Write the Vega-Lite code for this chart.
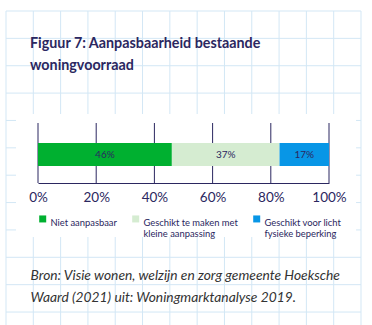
{
  "$schema": "https://vega.github.io/schema/vega-lite/v6.json",
  "width": 291,
  "height": 60,
  "autosize": {"type": "none"},
  "padding": {"left": 38, "top": 123, "right": 43, "bottom": 142},
  "background": "white",
  "config": {"view": {"stroke": null}, "font": "Lato"},
  "title": {
    "text": ["Figuur 7: Aanpasbaarheid bestaande", "woningvoorraad"],
    "anchor": "start",
    "frame": "group",
    "dx": -8,
    "offset": -63,
    "font": "Lato",
    "fontSize": 14.3,
    "fontWeight": "bold",
    "color": "#2b2760",
    "lineHeight": 22
  },
  "datasets": {
    "bars": [
      {"categorie": "Niet aanpasbaar", "aandeel": 0.46, "volgorde": 1},
      {"categorie": "Geschikt te maken met kleine aanpassing", "aandeel": 0.37, "volgorde": 2},
      {"categorie": "Geschikt voor licht fysieke beperking", "aandeel": 0.17, "volgorde": 3}
    ],
    "ticks": [{"t": 0}, {"t": 0.2}, {"t": 0.4}, {"t": 0.6}, {"t": 0.8}, {"t": 1}],
    "gx": [{"i": 0}, {"i": 1}, {"i": 2}, {"i": 3}, {"i": 4}, {"i": 5}, {"i": 6}, {"i": 7}, {"i": 8}, {"i": 9}, {"i": 10}, {"i": 11}, {"i": 12}, {"i": 13}],
    "gy": [{"j": 0}, {"j": 1}, {"j": 2}, {"j": 3}, {"j": 4}, {"j": 5}, {"j": 6}, {"j": 7}, {"j": 8}, {"j": 9}, {"j": 10}, {"j": 11}]
  },
  "layer": [
    {
      "data": {"name": "gx"},
      "mark": {"type": "rule", "color": "#d3e7f5", "strokeWidth": 1},
      "encoding": {
        "x": {"field": "i", "type": "quantitative", "axis": null, "scale": {"domain": [0, 13], "range": [-32, 323], "nice": false, "zero": false}},
        "y": {"datum": 0, "type": "quantitative", "axis": null, "scale": {"domain": [0, 12], "range": [-112, 216.4], "nice": false, "zero": false}},
        "y2": {"datum": 12}
      }
    },
    {
      "data": {"name": "gy"},
      "mark": {"type": "rule", "color": "#d3e7f5", "strokeWidth": 1},
      "encoding": {
        "y": {"field": "j", "type": "quantitative", "axis": null, "scale": {"domain": [0, 12], "range": [-112, 216.4], "nice": false, "zero": false}},
        "x": {"datum": 0, "type": "quantitative", "axis": null, "scale": {"domain": [0, 13], "range": [-32, 323], "nice": false, "zero": false}},
        "x2": {"datum": 13}
      }
    },
    {
      "data": {"values": [{"kaart": "grafiek"}]},
      "mark": {"type": "rect", "fill": "white"},
      "encoding": {
        "x": {"datum": 0.366, "type": "quantitative", "axis": null, "scale": {"domain": [0, 13], "range": [-32, 323], "nice": false, "zero": false}},
        "x2": {"datum": 12.82},
        "y": {"datum": 3.76, "type": "quantitative", "axis": null, "scale": {"domain": [0, 12], "range": [-112, 216.4], "nice": false, "zero": false}},
        "y2": {"datum": 8.26}
      }
    },
    {
      "layer": [
        {
          "data": {"name": "ticks"},
          "mark": {"type": "rule", "color": "#2b2760", "strokeWidth": 1},
          "encoding": {
            "x": {"field": "t", "type": "quantitative"}
          }
        },
        {
          "data": {"name": "bars"},
          "transform": [{"stack": "aandeel", "groupby": [], "sort": [{"field": "volgorde"}], "as": ["a0", "a1"]}],
          "mark": {"type": "bar", "height": 23, "yOffset": 1.5},
          "encoding": {
            "x": {
              "field": "a0",
              "type": "quantitative",
              "scale": {"domain": [0, 1], "nice": false},
              "axis": {
                "values": [0, 0.2, 0.4, 0.6, 0.8, 1],
                "format": ".0%",
                "grid": false,
                "ticks": false,
                "labelFlush": false,
                "domainColor": "#2b2760",
                "domainWidth": 1.2,
                "labelColor": "#2b2760",
                "labelFont": "Lato",
                "labelFontSize": 13.5,
                "labelPadding": 7,
                "zindex": 1,
                "title": ["Bron: Visie wonen, welzijn en zorg gemeente Hoeksche", "Waard (2021) uit: Woningmarktanalyse 2019."],
                "titleAnchor": "start",
                "titleAlign": "left",
                "titleBaseline": "alphabetic",
                "titleX": -8,
                "titleY": 96,
                "titleFont": "Lato",
                "titleFontStyle": "italic",
                "titleFontWeight": "normal",
                "titleFontSize": 13.8,
                "titleColor": "#333333",
                "titleLineHeight": 22
              }
            },
            "x2": {"field": "a1"},
            "y": {"datum": "A", "type": "nominal", "axis": null},
            "color": {
              "field": "categorie",
              "type": "nominal",
              "scale": {
                "domain": ["Niet aanpasbaar", "Geschikt te maken met kleine aanpassing", "Geschikt voor licht fysieke beperking"],
                "range": ["#00b030", "#d5ecd1", "#0896e6"]
              },
              "legend": {
                "orient": "none",
                "legendX": 0,
                "legendY": 91,
                "direction": "horizontal",
                "columns": 3,
                "columnPadding": 14,
                "title": null,
                "symbolType": "square",
                "symbolSize": 49,
                "symbolStrokeWidth": 0,
                "symbolOpacity": 1,
                "labelFont": "Lato",
                "labelFontSize": 9.4,
                "labelOffset": 3,
                "labelColor": "#2b2760",
                "labelLimit": 0,
                "labelBaseline": "top",
                "labelExpr": "datum.label == 'Geschikt te maken met kleine aanpassing' ? ['Geschikt te maken met', 'kleine aanpassing'] : datum.label == 'Geschikt voor licht fysieke beperking' ? ['Geschikt voor licht', 'fysieke beperking'] : [datum.label, '\u00a0']"
              }
            }
          }
        },
        {
          "data": {"name": "bars"},
          "transform": [
            {"stack": "aandeel", "groupby": [], "sort": [{"field": "volgorde"}], "as": ["a0", "a1"]},
            {"fold": ["a0", "a1"], "as": ["rand", "positie"]},
            {"aggregate": [{"op": "mean", "field": "positie", "as": "midden"}], "groupby": ["categorie", "aandeel"]}
          ],
          "mark": {"type": "text", "font": "Lato", "fontSize": 10, "color": "#2b2760", "baseline": "middle", "align": "center", "yOffset": 1.5},
          "encoding": {
            "x": {"field": "midden", "type": "quantitative"},
            "y": {"datum": "A", "type": "nominal"},
            "text": {"field": "aandeel", "type": "quantitative", "format": ".0%"}
          }
        }
      ]
    }
  ],
  "resolve": {"scale": {"x": "independent", "y": "independent"}}
}
